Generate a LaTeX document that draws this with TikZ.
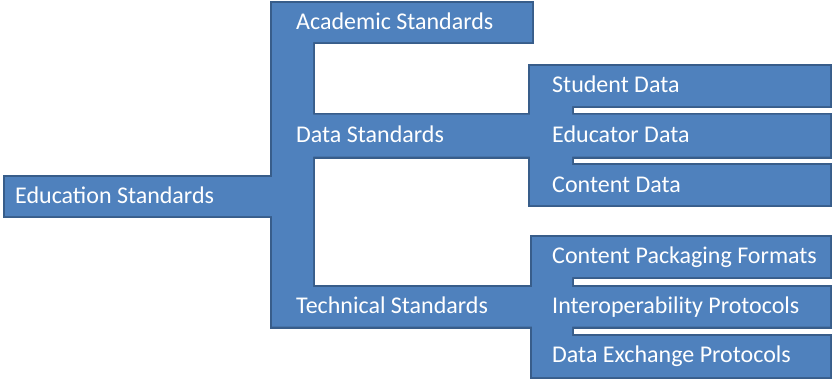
\documentclass[tikz,border=0pt]{standalone}
\usepackage{fontspec}
\setmainfont{Carlito}
\definecolor{boxfill}{HTML}{4F81BD}
\definecolor{boxline}{HTML}{385D8A}
\begin{document}
\begin{tikzpicture}[x=1pt,y=-1pt,
  lbl/.style={anchor=base west,inner sep=0pt,text=white,font=\fontsize{24}{28}\selectfont}]
\useasboundingbox (0,0) rectangle (837,384);
\def\shapes{%
  (5,177) rectangle (290,216)
  (272,3) rectangle (313,326.5)
  (272,3) rectangle (532,42)
  (272,114.5) rectangle (550,156.5)
  (272,287) rectangle (550,326.5)
  (530,66) rectangle (572,205)
  (530,66) rectangle (830,106)
  (530,114.5) rectangle (830,156.5)
  (530,165) rectangle (830,205)
  (532,237) rectangle (572,377)
  (532,237) rectangle (830,277)
  (532,287) rectangle (830,326.5)
  (532,336) rectangle (830,377)}
\draw[boxline,line width=4pt,line join=miter] \shapes;
\fill[boxfill] \shapes;
\node[lbl] (edu) at (15,203) {Education Standards};
\node[lbl] (aca) at (296,29) {Academic Standards};
\node[lbl] (dat) at (296,142) {Data Standards};
\node[lbl] (tec) at (296,313) {Technical Standards};
\node[lbl] (stu) at (552,92) {Student Data};
\node[lbl] (eduD) at (552,142) {Educator Data};
\node[lbl] (con) at (552,192) {Content Data};
\node[lbl] (cpf) at (552,263) {Content Packaging Formats};
\node[lbl] (int) at (552,313) {Interoperability Protocols};
\node[lbl] (dex) at (552,362) {Data Exchange Protocols};
\end{tikzpicture}
\end{document}
